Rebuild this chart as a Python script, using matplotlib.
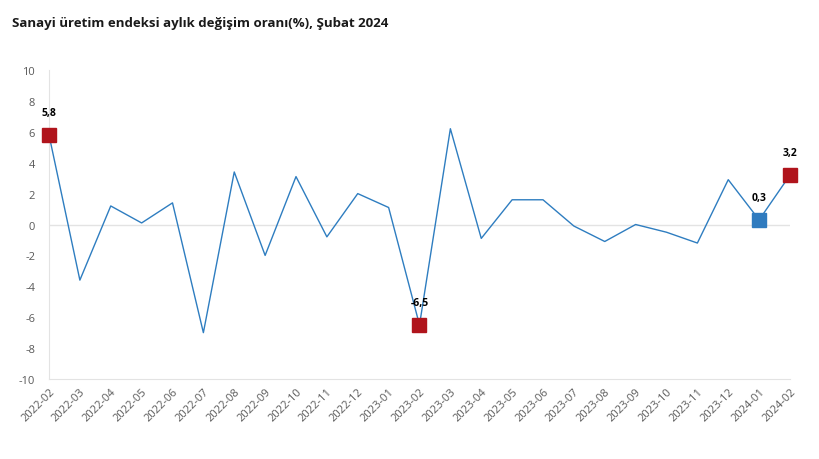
import matplotlib.pyplot as plt
import numpy as np

plt.rcParams['font.family'] = ['Open Sans', 'DejaVu Sans']
plt.rcParams['axes.unicode_minus'] = False

# monthly change (%) of the industrial production index
months = ['2022-02', '2022-03', '2022-04', '2022-05', '2022-06', '2022-07',
          '2022-08', '2022-09', '2022-10', '2022-11', '2022-12', '2023-01',
          '2023-02', '2023-03', '2023-04', '2023-05', '2023-06', '2023-07',
          '2023-08', '2023-09', '2023-10', '2023-11', '2023-12', '2024-01',
          '2024-02']
values = [5.8, -3.6, 1.2, 0.1, 1.4, -7.0, 3.4, -2.0, 3.1, -0.8, 2.0, 1.1,
          -6.5, 6.2, -0.9, 1.6, 1.6, -0.1, -1.1, 0.0, -0.5, -1.2, 2.9, 0.3,
          3.2]

# highlighted months
highlight_red = ['2022-02', '2023-02', '2024-02']
highlight_blue = ['2024-01']

line_color = '#2E7DC0'
red = '#B0141C'
blue = '#2F7BBF'

fig = plt.figure(figsize=(8.2, 4.6), dpi=100)
ax = fig.add_axes([49 / 820, 1 - 380 / 460, (790 - 49) / 820, (380 - 71) / 460])

x = np.arange(len(months))
ax.plot(x, values, color=line_color, lw=1.0, zorder=3)

for m in highlight_red + highlight_blue:
    i = months.index(m)
    c = red if m in highlight_red else blue
    ax.plot(x[i], values[i], marker='s', ms=9.5, color=c, mec=c, zorder=4,
            clip_on=False)
    ax.annotate(('%.1f' % values[i]).replace('.', ','), (x[i], values[i]),
                xytext=(0, 12), textcoords='offset points', ha='center',
                va='bottom', fontsize=7.5, fontweight='bold', color='black')

ax.set_xlim(0, len(months) - 1)
ax.set_ylim(-10, 10)
ax.set_yticks(np.arange(-10, 11, 2))
ax.set_xticks(x)
ax.set_xticklabels(months, rotation=45, ha='right', rotation_mode='anchor')
ax.tick_params(axis='both', length=0, labelsize=8, colors='#595959')
ax.tick_params(axis='y', pad=10)
ax.tick_params(axis='x', pad=5)

ax.axhline(0, color='#E3E3E3', lw=1, zorder=1)
for s in ['top', 'right']:
    ax.spines[s].set_visible(False)
ax.spines['left'].set_color('#E3E3E3')
ax.spines['bottom'].set_color('#E3E3E3')

fig.text(12 / 820, 1 - 23 / 460, 'Sanayi üretim endeksi aylık değişim oranı(%), Şubat 2024',
         fontsize=9.5, fontweight='bold', color='#1a1a1a', va='center')

fig.savefig('out.png', dpi=100)
